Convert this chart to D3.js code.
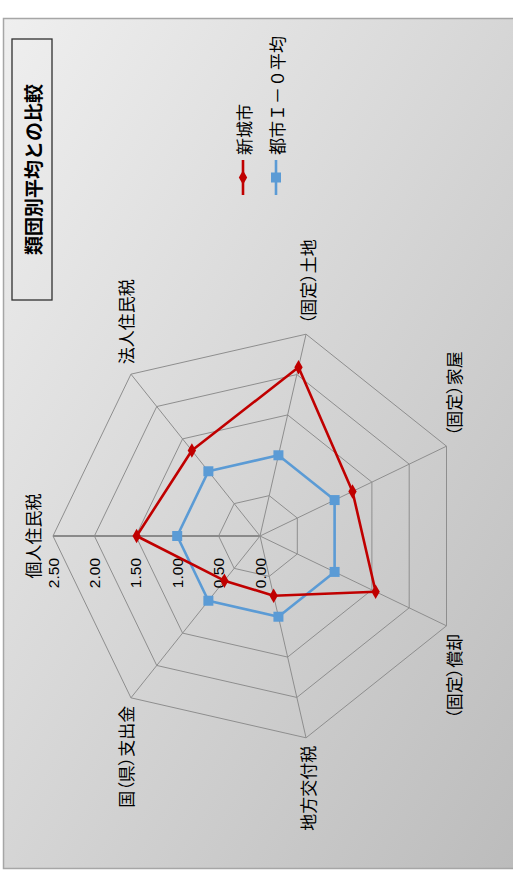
<!DOCTYPE html>
<html>
<head>
<meta charset="utf-8">
<script src="https://cdn.jsdelivr.net/npm/d3@7"></script>
<style>
  html, body { margin: 0; padding: 0; background: #ffffff; }
  svg { display: block; }
  .cat { font-feature-settings: "palt"; }
</style>
</head>
<body>
<div id="chart"></div>
<script>
// Radar chart: 新城市 compared with the 都市Ｉ－０ group average (ratio, average = 1.00)
const categories = ["個人住民税", "法人住民税", "（固定）土地", "（固定）家屋", "（固定）償却", "地方交付税", "国（県）支出金"];
const shinshiro = [1.49, 1.32, 2.09, 1.24, 1.55, 0.74, 0.69];
const groupAverage = [1.00, 1.00, 1.00, 1.00, 1.00, 1.00, 1.00];
const tickValues = [0, 0.5, 1.0, 1.5, 2.0, 2.5];
const seriesNames = ["新城市", "都市Ｉ－０平均"];
const title = "類団別平均との比較";

const W = 513, H = 875;
const svg = d3.select("#chart").append("svg").attr("width", W).attr("height", H);

// background panel with diagonal gradient
const defs = svg.append("defs");
const grad = defs.append("linearGradient").attr("id", "bg")
  .attr("x1", 0).attr("y1", 0).attr("x2", 1).attr("y2", 1);
grad.append("stop").attr("offset", "0%").attr("stop-color", "#efefef");
grad.append("stop").attr("offset", "100%").attr("stop-color", "#bbbbbb");

svg.append("rect")
  .attr("x", 3.5).attr("y", 18.5).attr("width", 530).attr("height", 850)
  .attr("fill", "url(#bg)").attr("stroke", "#a6a6a6").attr("stroke-width", 1.5);

// the whole chart is laid out landscape and turned a quarter turn
const g = svg.append("g").attr("transform", `translate(0,${H}) rotate(-90)`);

const cx = 339, cy = 260, R = 207;
const r = d3.scaleLinear().domain([0, 2.5]).range([0, R]);
const n = categories.length;
const angle = d3.scaleLinear().domain([0, n]).range([0, 2 * Math.PI]);
const pt = (i, v) => [cx + r(v) * Math.sin(angle(i)), cy - r(v) * Math.cos(angle(i))];

const cjk = "'Noto Sans CJK JP', 'Noto Sans', sans-serif";

// rings
const ring = d3.line();
tickValues.filter(t => t > 0).forEach(t => {
  const pts = d3.range(n).map(i => pt(i, t));
  g.append("path").attr("d", ring(pts) + "Z")
    .attr("fill", "none").attr("stroke", "#8e8e8e").attr("stroke-width", 1);
});
// spokes
d3.range(n).forEach(i => {
  const [x2, y2] = pt(i, 2.5);
  g.append("line").attr("x1", cx).attr("y1", cy).attr("x2", x2).attr("y2", y2)
    .attr("stroke", i === 0 ? "#8a8a8a" : "#8e8e8e")
    .attr("stroke-width", i === 0 ? 2 : 1);
});

// value labels along the first axis
g.selectAll("text.tick").data(tickValues).enter().append("text")
  .attr("class", "tick")
  .attr("x", cx - 22).attr("y", d => cy - r(d))
  .attr("text-anchor", "end").attr("dominant-baseline", "central")
  .attr("font-family", "'Liberation Sans', Arial, sans-serif").attr("font-size", 15.5)
  .attr("fill", "#000")
  .text(d3.format(".2f"));

// category labels
categories.forEach((c, i) => {
  const a = angle(i);
  const [px, py] = pt(i, 2.5);
  const s = Math.sin(a);
  let x, y, anchor;
  if (Math.abs(s) < 0.1) { x = px; y = py - 21; anchor = "middle"; }
  else {
    anchor = s > 0 ? "start" : "end";
    x = px + (s > 0 ? 10 : -8);
    y = py - 8 * Math.cos(a);
  }
  g.append("text").attr("class", "cat").attr("x", x).attr("y", y)
    .attr("text-anchor", anchor).attr("dominant-baseline", "central")
    .attr("font-family", cjk).attr("font-size", 17).attr("fill", "#000")
    .text(c);
});

// series
const series = [
  { name: seriesNames[0], values: shinshiro, color: "#c00000", marker: "diamond" },
  { name: seriesNames[1], values: groupAverage, color: "#5b9bd5", marker: "square" }
];
const drawMarker = (sel, s, x, y) => {
  if (s.marker === "diamond") {
    sel.append("path").attr("d", d3.symbol(d3.symbolDiamond, 60)())
      .attr("transform", `translate(${x},${y}) rotate(90)`).attr("fill", s.color);
  } else {
    sel.append("rect").attr("x", x - 5).attr("y", y - 5).attr("width", 10).attr("height", 10)
      .attr("fill", s.color);
  }
};
// average drawn first, city line on top
[series[1], series[0]].forEach(s => {
  const pts = s.values.map((v, i) => pt(i, v));
  g.append("path").attr("d", ring(pts) + "Z")
    .attr("fill", "none").attr("stroke", s.color).attr("stroke-width", 2.6)
    .attr("stroke-linejoin", "round");
  pts.forEach(([x, y]) => drawMarker(g, s, x, y));
});

// legend
series.forEach((s, k) => {
  const ly = 243 + k * 33;
  g.append("line").attr("x1", 680).attr("x2", 715).attr("y1", ly).attr("y2", ly)
    .attr("stroke", s.color).attr("stroke-width", 2.6);
  drawMarker(g, s, 697.5, ly);
  g.append("text").attr("x", 720).attr("y", ly)
    .attr("dominant-baseline", "central")
    .attr("font-family", cjk).attr("font-size", 17).attr("fill", "#000")
    .text(s.name);
});

// title box
g.append("rect").attr("x", 575).attr("y", 12).attr("width", 261).attr("height", 40)
  .attr("fill", "none").attr("stroke", "#303030").attr("stroke-width", 1.3);
g.append("text").attr("x", 705.5).attr("y", 32)
  .attr("text-anchor", "middle").attr("dominant-baseline", "central")
  .attr("font-family", cjk).attr("font-size", 19).attr("font-weight", "bold").attr("fill", "#000")
  .text(title);
</script>
</body>
</html>
